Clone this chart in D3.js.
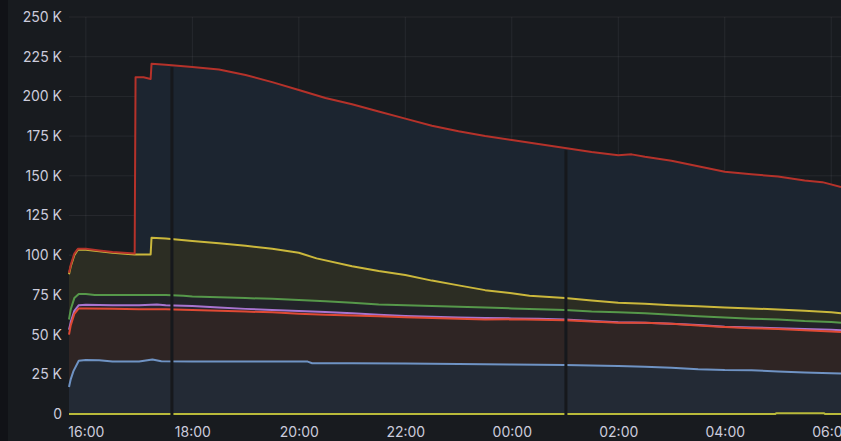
<!DOCTYPE html>
<html><head><meta charset="utf-8">
<script src="https://cdn.jsdelivr.net/npm/d3@7"></script>
<style>
html,body{margin:0;padding:0;background:#181b1f;}
svg{display:block;}
</style></head>
<body>
<svg id="chart" width="841" height="441"></svg>
<script>
// ---- data (values in thousands) ----
const redTimes   = ["15:41","15:43","15:47","15:51","16:00","16:15","16:30","16:55","16:56","17:05","17:13","17:14","17:30","18:00","18:30","19:00","19:30","20:00","20:30","21:00","21:30","22:00","22:30","23:00","23:30","00:00","00:30","01:00","01:30","02:00","02:15","02:30","03:00","03:30","04:00","04:30","05:00","05:30","05:50","06:11"];
const redValues  = [89,94,101,104,104,103,102,101,212,212,211,220.5,220,218.5,217,213.5,209,204,199,195,190.5,186,181.5,178,175,172.5,170,167.5,165,163,163.5,162,159.5,156,152.5,151,149.5,147,146,143];

const yellowTimes  = ["15:41","15:43","15:47","15:51","16:00","16:30","16:55","17:13","17:14","17:30","18:00","18:30","19:00","19:30","20:00","20:20","21:00","21:30","22:00","22:30","23:00","23:30","00:00","00:20","01:00","01:30","02:00","02:30","03:00","03:30","04:00","04:30","05:00","05:30","06:00","06:11"];
const yellowValues = [88,93,100,103.5,103.5,101.5,100.5,100.5,111,110.5,109,107.5,106,104,101.5,98,93,90,87.5,84,81,78,76,74.5,73,71.5,70,69.5,68.5,67.8,67,66.5,65.8,65,64,63.5];

const greenTimes  = ["15:41","15:43","15:47","15:52","16:00","16:10","16:30","17:00","17:30","17:50","18:00","18:30","19:00","19:30","20:00","20:30","21:00","21:30","22:00","22:30","23:00","23:30","00:00","00:30","01:00","01:30","02:00","02:30","03:00","03:30","04:00","04:30","05:00","05:30","06:00","06:11"];
const greenValues = [59.5,66,73,75.5,75.5,75,75,75,75,74.5,74,73.5,73,72.5,71.8,71,70,69,68.5,68,67.5,67,66.5,66,65.5,64.5,64,63.5,62.5,61.5,60.7,60,59.5,58.5,58,57.5];

const purpleTimes  = ["15:41","15:43","15:47","15:52","16:00","16:30","17:00","17:20","17:30","18:00","18:30","19:00","19:30","20:00","20:30","21:00","21:30","22:00","22:30","23:00","23:30","00:00","00:30","01:00","01:30","02:00","02:30","03:00","03:30","04:00","04:30","05:00","05:30","06:00","06:11"];
const purpleValues = [53,58,65,68.5,68.8,68.5,68.5,69,68.5,68,67,66.2,65.5,64.8,64.3,63.5,62.5,61.7,61.2,60.8,60.5,60.2,60,59.5,58.5,57.8,57.5,56.8,56,55,54.5,54,53.5,53,52.8];

const orangeTimes  = ["15:41","15:43","15:47","15:52","16:00","16:30","17:00","17:30","18:00","18:30","19:00","19:30","20:00","20:30","21:00","21:30","22:00","22:30","23:00","23:30","00:00","00:30","01:00","01:30","02:00","02:30","03:00","03:30","04:00","04:30","05:00","05:30","06:00","06:11"];
const orangeValues = [50,56,63,66.5,66.5,66.2,66,66,65.5,65,64.5,64,63.2,62.5,62,61.5,61,60.5,60,59.5,59.6,59.3,59,58.3,57.5,57.5,56.8,55.8,54.8,54,53.5,52.7,52,51.7];

const blueTimes  = ["15:41","15:43","15:46","15:52","16:00","16:15","16:30","17:00","17:15","17:25","18:00","19:00","20:10","20:15","21:00","22:00","23:00","00:00","01:00","02:00","02:30","03:00","03:30","04:00","04:30","05:00","05:30","06:00","06:11"];
const blueValues = [17,22,27,33.5,34,33.8,33,33,34.3,33.2,33,33,33,32,32,31.8,31.5,31.2,30.8,30.2,29.8,29.2,28.2,27.7,27.6,26.8,26.2,25.7,25.5];

const baseTimes  = ["15:41","04:57","04:58","05:52","05:53","06:11"];
const baseValues = [0,0,0.5,0.5,0,0];

const gapTimes = ["17:37","01:01"];
const yTicks = [0,25,50,75,100,125,150,175,200,225,250];
const xTicks = ["16:00","18:00","20:00","22:00","00:00","02:00","04:00","06:00"];
const domainTimes = ["15:41","06:11"];

// ---- helpers ----
function parseT(s){
  const [h,m] = s.split(":").map(Number);
  const day = h < 12 ? 2 : 1;
  return new Date(2024,0,day,h,m);
}
function series(times, values){ return times.map((t,i)=>({t:parseT(t), v:values[i]})); }

const seriesList = [
  {name:"red",    data:series(redTimes,redValues),       line:"#b5322a", fill:"#1c2530"},
  {name:"yellow", data:series(yellowTimes,yellowValues), line:"#cbb83c", fill:"#2c2d23"},
  {name:"green",  data:series(greenTimes,greenValues),   line:"#56984a", fill:"#222329"},
  {name:"purple", data:series(purpleTimes,purpleValues), line:"#a874d0", fill:"#2b2530"},
  {name:"orange", data:series(orangeTimes,orangeValues), line:"#e04a34", fill:"#2f2524"},
  {name:"blue",   data:series(blueTimes,blueValues),     line:"#6f93c4", fill:"#232a35"},
  {name:"base",   data:series(baseTimes,baseValues),     line:"#b9ba3a", fill:null}
];

const svg = d3.select("#chart");
const W = 841, H = 441;
const pLeft = 69, pRight = 841, pTop = 17, pBottom = 414;

svg.append("rect").attr("x",0).attr("y",0).attr("width",W).attr("height",H).attr("fill","#181b1f");
svg.append("rect").attr("x",0).attr("y",0).attr("width",8).attr("height",H).attr("fill","#111217");

const x = d3.scaleTime().domain(domainTimes.map(parseT)).range([pLeft,pRight]);
const y = d3.scaleLinear().domain([0,250]).range([pBottom,pTop]);

// grid
const grid = svg.append("g");
grid.selectAll("line.h").data(yTicks).enter().append("line").attr("class","h")
  .attr("x1",pLeft).attr("x2",pRight).attr("y1",d=>y(d)).attr("y2",d=>y(d))
  .attr("stroke","rgba(204,204,220,0.08)").attr("stroke-width",1);
grid.selectAll("line.v").data(xTicks).enter().append("line").attr("class","v")
  .attr("x1",d=>x(parseT(d))).attr("x2",d=>x(parseT(d))).attr("y1",pTop).attr("y2",pBottom)
  .attr("stroke","rgba(204,204,220,0.08)").attr("stroke-width",1);

// areas
const area = d3.area().x(d=>x(d.t)).y0(y(0)).y1(d=>y(d.v));
const line = d3.line().x(d=>x(d.t)).y(d=>y(d.v));
seriesList.filter(s=>s.fill).forEach(s=>{
  svg.append("path").datum(s.data).attr("d",area).attr("fill",s.fill);
});

// lines (all but top red)
seriesList.slice(1).forEach(s=>{
  svg.append("path").datum(s.data).attr("d",line).attr("fill","none")
    .attr("stroke",s.line).attr("stroke-width",2).attr("stroke-linejoin","round");
});

// gap strips
const redData = seriesList[0].data;
function redAt(t){
  const i = d3.bisector(d=>d.t).left(redData,t);
  const a = redData[Math.max(0,i-1)], b = redData[Math.min(redData.length-1,i)];
  if (a===b) return a.v;
  const f = (t-a.t)/(b.t-a.t);
  return a.v + f*(b.v-a.v);
}
gapTimes.forEach(g=>{
  const t = parseT(g);
  const yt = y(redAt(t)) + 2;
  svg.append("rect").attr("x",x(t)-1.5).attr("y",yt).attr("width",3).attr("height",pBottom+1-yt)
    .attr("fill","#16181c");
});

// red line on top
svg.append("path").datum(redData).attr("d",line).attr("fill","none")
  .attr("stroke",seriesList[0].line).attr("stroke-width",2).attr("stroke-linejoin","round");

// axes
const yAxis = d3.axisLeft(y).tickValues(yTicks).tickSize(0).tickPadding(0)
  .tickFormat(d=> d===0 ? "0" : d+" K");
const gy = svg.append("g").attr("transform","translate(62,0)").call(yAxis);
gy.select(".domain").remove();
gy.selectAll("text").attr("fill","#ccccdc").style("font-family","Inter, 'Open Sans', sans-serif").style("font-size","14px");

const xAxis = d3.axisBottom(x).tickValues(xTicks.map(parseT)).tickSize(0).tickPadding(0)
  .tickFormat(d3.timeFormat("%H:%M"));
const gx = svg.append("g").attr("transform","translate(0,427)").call(xAxis);
gx.select(".domain").remove();
gx.selectAll("text").attr("fill","#ccccdc").attr("dy","0.71em").style("font-family","Inter, 'Open Sans', sans-serif").style("font-size","14px");
</script>
</body></html>
